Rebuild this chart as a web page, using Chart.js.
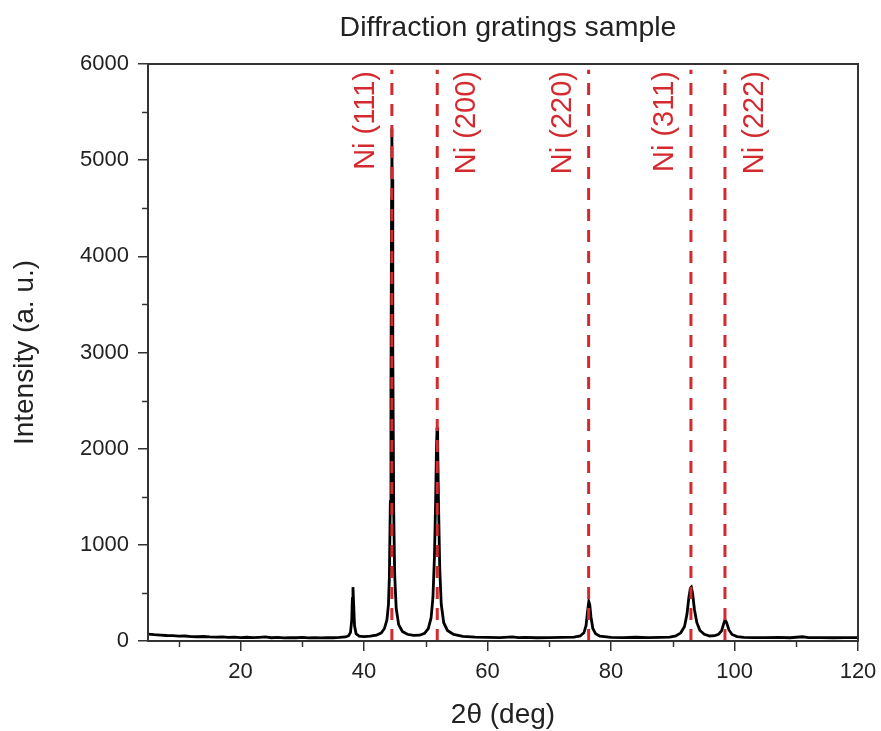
<!DOCTYPE html>
<html>
<head>
<meta charset="utf-8">
<script src="https://cdn.jsdelivr.net/npm/chart.js@4.4.1/dist/chart.umd.min.js"></script>
<style>
  html, body { margin: 0; padding: 0; background: #fff; }
  #wrap { width: 881px; height: 731px; position: relative; }
</style>
</head>
<body>
<div id="wrap"><canvas id="chart-xrd"></canvas></div>
<script>
// ===== DATA =====
const twoTheta = [
  5, 6, 7, 8, 9, 10, 11, 12, 13, 14, 15, 16, 17, 18, 19, 20, 21, 22, 23, 24,
  25, 26, 27, 28, 29, 30, 31, 32, 33, 34, 35, 36, 37, 37.5, 37.8, 38.0, 38.1, 38.2, 38.3, 38.45,
  38.7, 39.2, 40, 41, 42, 42.8, 43.3, 43.7, 43.95, 44.1, 44.25, 44.35, 44.45, 44.5, 44.55, 44.65,
  44.8, 44.95, 45.2, 45.6, 46.2, 47, 48, 49, 49.8, 50.4, 50.85, 51.15, 51.4, 51.6, 51.72, 51.82,
  51.92, 52.05, 52.25, 52.5, 52.9, 53.5, 54.5, 56, 58, 60, 62, 64, 65, 66, 68, 70, 72, 74,
  75, 75.6, 75.95, 76.2, 76.4, 76.55, 76.75, 77.05, 77.5, 78.2, 80, 82, 84, 86, 88, 89.5, 90.5,
  91.3, 91.9, 92.3, 92.6, 92.85, 93.0, 93.2, 93.5, 93.9, 94.4, 95.1, 96, 96.8, 97.4, 97.9,
  98.2, 98.45, 98.7, 99.1, 99.6, 100.4, 101.5, 103, 105, 107, 109, 111, 112, 114, 116, 118, 120
];
const intensity = [
  72, 66, 62, 57, 55, 50, 52, 46, 44, 47, 42, 40, 43, 38, 40, 36, 39, 35, 38, 42,
  34, 37, 33, 36, 34, 38, 33, 35, 32, 36, 34, 37, 42, 55, 90, 220, 440, 560, 400, 160,
  75, 50, 45, 50, 60, 85, 130, 220, 380, 680, 1450, 2600, 4600, 5330, 4800, 3000,
  1350, 700, 340, 170, 100, 70, 58, 60, 80, 130, 240, 450, 880, 1500, 2000, 2220,
  2050, 1450, 760, 380, 190, 110, 68, 48, 40, 38, 36, 42, 35, 37, 34, 36, 38, 40,
  52, 85, 160, 310, 410, 380, 250, 130, 75, 50, 38, 36, 39, 35, 37, 40, 52,
  85, 150, 280, 450, 550, 560, 500, 330, 190, 110, 70, 52, 55, 70, 105,
  170, 220, 195, 115, 68, 46, 38, 36, 35, 37, 34, 44, 36, 35, 34, 36, 35
];

// Ni reference reflections (dashed red markers)
const niPositions = [44.5, 51.85, 76.37, 92.94, 98.45];
const niLabels = ['Ni (111)', 'Ni (200)', 'Ni (220)', 'Ni (311)', 'Ni (222)'];
const niLabelSide = [-1, 1, -1, -1, 1];

const xTicks = [20, 40, 60, 80, 100, 120];
const xMinor = [10, 30, 50, 70, 90, 110];
const yTicks = [0, 1000, 2000, 3000, 4000, 5000, 6000];
const yMinor = [500, 1500, 2500, 3500, 4500, 5500];

const chartTitle = 'Diffraction gratings sample';

// ===== STYLE =====
const redColor = '#d42a2f';
const axisColor = '#333333';
const textColor = '#222222';
const fontFamily = "'Liberation Sans', Arial, sans-serif";

Chart.defaults.font.family = fontFamily;
Chart.defaults.color = textColor;

const spectrum = twoTheta.map((x, i) => ({ x: x, y: intensity[i] }));

const refSets = niPositions.map((pos, i) => ({
  label: niLabels[i],
  data: [{ x: pos, y: 0 }, { x: pos, y: 5940 }],
  borderColor: redColor,
  borderWidth: 3,
  borderDash: [12, 9],
  pointRadius: 0,
  order: 0
}));

// title, frame, minor ticks and rotated Ni labels
const decorations = {
  id: 'decorations',
  afterDraw(chart) {
    const { ctx, chartArea: a, scales } = chart;
    const xs = scales.x, ys = scales.y;
    ctx.save();
    ctx.strokeStyle = axisColor;
    ctx.lineWidth = 1.5;
    xMinor.forEach(v => {
      const px = Math.round(xs.getPixelForValue(v)) + 0.5;
      ctx.beginPath(); ctx.moveTo(px, a.bottom); ctx.lineTo(px, a.bottom + 6); ctx.stroke();
    });
    yMinor.forEach(v => {
      const py = Math.round(ys.getPixelForValue(v)) + 0.5;
      ctx.beginPath(); ctx.moveTo(a.left, py); ctx.lineTo(a.left - 6, py); ctx.stroke();
    });
    ctx.lineWidth = 2;
    ctx.strokeRect(a.left, a.top, a.right - a.left, a.bottom - a.top);

    ctx.fillStyle = textColor;
    ctx.font = '28.5px ' + fontFamily;
    ctx.textAlign = 'center';
    ctx.textBaseline = 'middle';
    ctx.fillText(chartTitle, (a.left + a.right) / 2 + 5, 28);

    ctx.fillStyle = redColor;
    ctx.font = '29px ' + fontFamily;
    ctx.textAlign = 'right';
    niPositions.forEach((pos, i) => {
      const px = xs.getPixelForValue(pos);
      const cx = px + (niLabelSide[i] < 0 ? -26 : 30);
      ctx.save();
      ctx.translate(cx, a.top + 7);
      ctx.rotate(-Math.PI / 2);
      ctx.fillText(niLabels[i], 0, 0);
      ctx.restore();
    });
    ctx.restore();
  }
};

new Chart(document.getElementById('chart-xrd'), {
  type: 'line',
  data: {
    datasets: [
      ...refSets,
      {
        label: 'Sample',
        data: spectrum,
        borderColor: '#000000',
        borderWidth: 2.8,
        pointRadius: 0,
        tension: 0,
        order: 1
      }
    ]
  },
  options: {
    responsive: true,
    maintainAspectRatio: false,
    animation: false,
    layout: { padding: { left: 0, right: 23, top: 64, bottom: 0 } },
    plugins: {
      legend: { display: false },
      tooltip: { enabled: false },
      title: { display: false }
    },
    scales: {
      x: {
        type: 'linear',
        min: 5,
        max: 120,
        afterBuildTicks: s => { s.ticks = xTicks.map(v => ({ value: v })); },
        afterFit: s => { s.height = 90; s.paddingRight = 0; s.paddingLeft = 0; },
        grid: { drawOnChartArea: false, drawTicks: true, tickLength: 10, color: axisColor, lineWidth: 1.5 },
        border: { display: true, color: axisColor, width: 2 },
        ticks: { font: { size: 22 }, color: textColor, padding: 8, maxRotation: 0, callback: v => String(v) },
        title: { display: true, text: '2\u03B8 (deg)', color: textColor, font: { size: 28, lineHeight: 1 }, padding: { top: 2, bottom: 2 } }
      },
      y: {
        min: 0,
        max: 6000,
        afterBuildTicks: s => { s.ticks = yTicks.map(v => ({ value: v })); },
        afterFit: s => { s.width = 148; },
        grid: { drawOnChartArea: false, drawTicks: true, tickLength: 10, color: axisColor, lineWidth: 1.5 },
        border: { display: true, color: axisColor, width: 2 },
        ticks: { font: { size: 22 }, color: textColor, padding: 9, callback: v => String(v) },
        title: { display: true, text: 'Intensity (a. u.)', color: textColor, font: { size: 28 }, padding: { top: 8, bottom: 0 } }
      }
    }
  },
  plugins: [decorations]
});
</script>
</body>
</html>
